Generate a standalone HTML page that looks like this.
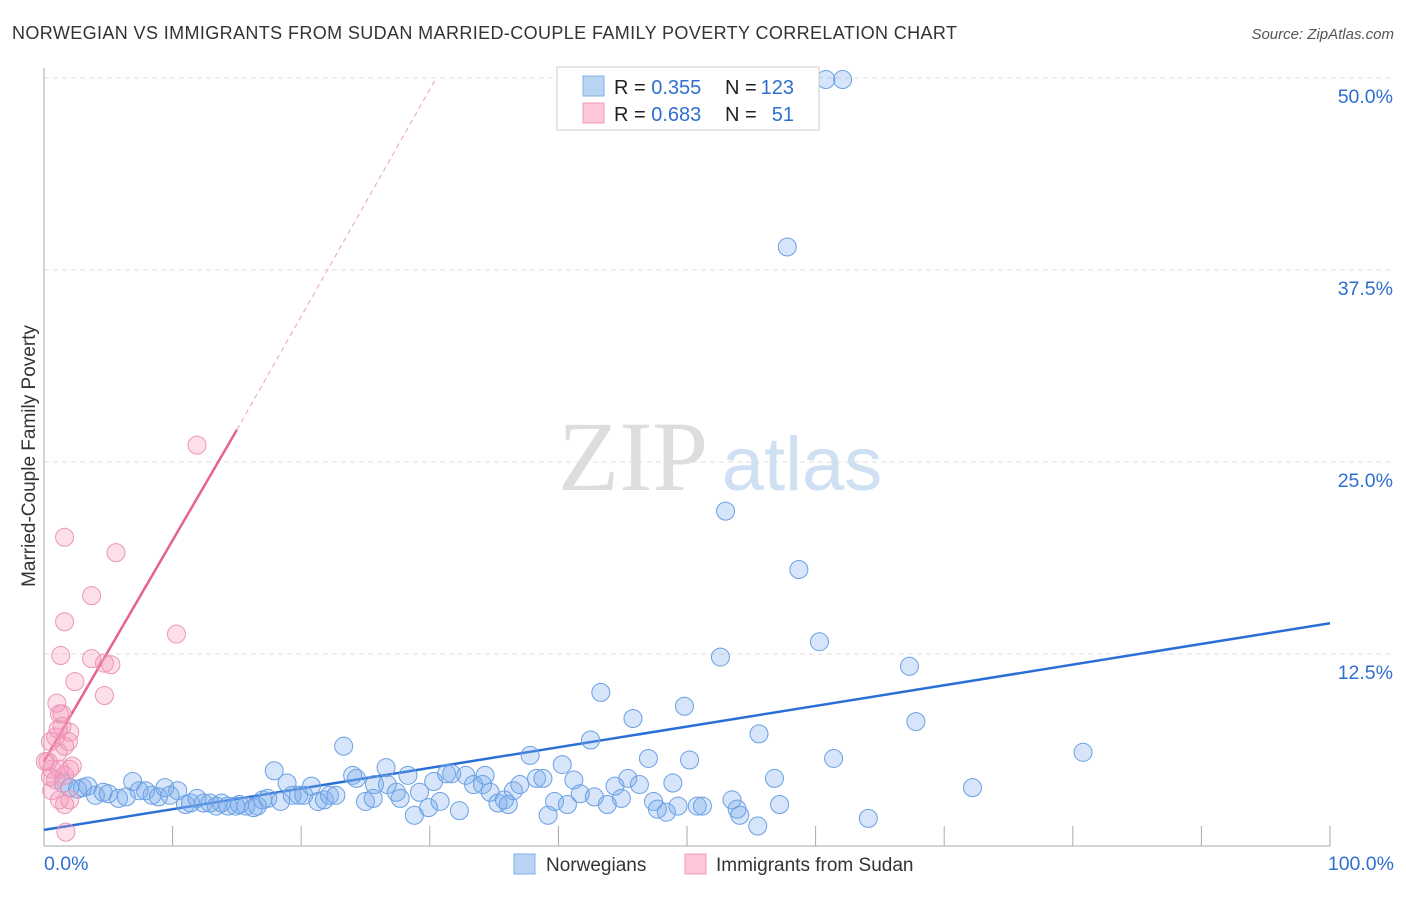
<!DOCTYPE html>
<html><head><meta charset="utf-8"><style>
body{margin:0;background:#fff;font-family:"Liberation Sans",sans-serif;}
svg text{font-family:"Liberation Sans",sans-serif;}
svg text.serif{font-family:"Liberation Serif",serif;}
</style></head><body>
<svg id="chart" width="1406" height="892">
<text x="12" y="39" font-size="18" fill="#333" textLength="945">NORWEGIAN VS IMMIGRANTS FROM SUDAN MARRIED-COUPLE FAMILY POVERTY CORRELATION CHART</text>
<text x="1394" y="39" font-size="15" fill="#555" font-style="italic" text-anchor="end">Source: ZipAtlas.com</text>
<text x="35" y="456" font-size="19" fill="#333" text-anchor="middle" transform="rotate(-90 35 456)">Married-Couple Family Poverty</text>
<g><text class="serif" x="633" y="490" font-size="100" fill="#ddd" text-anchor="middle">ZIP</text><text x="802" y="490" font-size="76" fill="#cfe0f3" text-anchor="middle">atlas</text></g>
<g id="grid"></g><g id="axes"></g><g id="lines"></g><g id="pts"></g>
<g>
<rect x="557" y="67" width="262" height="63" fill="#fff" stroke="#ccc"/>
<rect x="583" y="76" width="21" height="20" fill="#b9d3f3" stroke="#7fb0e8"/>
<rect x="583" y="103" width="21" height="20" fill="#fcc7d7" stroke="#f099b4"/>
<text x="614" y="94" font-size="20" fill="#222">R = <tspan fill="#2f6fd0">0.355</tspan></text>
<text x="725" y="94" font-size="20" fill="#222">N =</text>
<text x="794" y="94" font-size="20" fill="#2f6fd0" text-anchor="end">123</text>
<text x="614" y="121" font-size="20" fill="#222">R = <tspan fill="#2f6fd0">0.683</tspan></text>
<text x="725" y="121" font-size="20" fill="#222">N =</text>
<text x="794" y="121" font-size="20" fill="#2f6fd0" text-anchor="end">51</text>
</g>
<g>
<rect x="514" y="854" width="21" height="20" fill="#b9d3f3" stroke="#7fb0e8"/>
<text x="546" y="871" font-size="19" fill="#333">Norwegians</text>
<rect x="685" y="854" width="21" height="20" fill="#fcc7d7" stroke="#f099b4"/>
<text x="716" y="871" font-size="19" fill="#333">Immigrants from Sudan</text>
</g>
</svg>
<script>
const yTicks=[12.5,25.0,37.5,50.0];
const yTickLabels=["12.5%","25.0%","37.5%","50.0%"];
const xTickLabels=["0.0%","100.0%"];
const blueX=[1.5,2.0,2.6,3.0,3.4,4.0,4.6,5.0,5.8,6.4,6.9,7.4,7.9,8.4,8.9,9.4,9.8,10.4,11.0,11.4,11.9,12.4,12.9,13.4,13.8,14.3,14.9,15.2,15.7,16.3,16.6,17.0,17.4,17.9,18.4,18.9,19.3,19.8,20.2,20.8,21.3,21.8,22.2,22.7,23.3,24.0,24.3,25.0,25.6,25.7,26.6,26.7,27.4,27.7,28.3,28.8,29.2,29.9,30.3,30.8,31.3,31.7,32.3,32.8,33.4,34.1,34.3,34.7,35.3,35.8,36.1,36.5,37.0,37.8,38.3,38.8,39.2,39.7,40.3,40.7,41.2,41.7,42.5,42.8,43.3,43.8,44.4,44.9,45.4,45.8,46.3,47.0,47.4,47.7,48.4,48.9,49.3,49.8,50.2,50.8,51.2,52.6,53.0,53.5,53.9,54.1,55.6,55.5,56.8,57.2,57.8,58.7,60.3,60.8,61.4,62.1,64.1,67.3,67.8,72.2,80.8];
const blueY=[4.1,3.8,3.7,3.8,3.9,3.3,3.5,3.4,3.1,3.2,4.2,3.6,3.6,3.3,3.2,3.8,3.3,3.6,2.7,2.8,3.1,2.8,2.8,2.6,2.8,2.6,2.6,2.7,2.6,2.5,2.6,3.0,3.1,4.9,2.9,4.1,3.3,3.3,3.3,3.9,2.9,3.0,3.3,3.3,6.5,4.6,4.4,2.9,3.1,4.0,5.1,4.0,3.5,3.1,4.6,2.0,3.5,2.5,4.2,2.9,4.7,4.7,2.3,4.6,4.0,4.0,4.6,3.5,2.8,3.0,2.7,3.6,4.0,5.9,4.4,4.4,2.0,2.9,5.3,2.7,4.3,3.4,6.9,3.2,10.0,2.7,3.9,3.1,4.4,8.3,4.0,5.7,2.9,2.4,2.2,4.1,2.6,9.1,5.6,2.6,2.6,12.3,21.8,3.0,2.4,2.0,7.3,1.3,4.4,2.7,39.0,18.0,13.3,49.9,5.7,49.9,1.8,11.7,8.1,3.8,6.1];
const pinkX=[11.9,1.6,5.6,3.7,1.6,10.3,1.3,3.7,4.7,5.2,2.4,4.7,1,1.2,1.4,2,0.9,1.6,0.5,1.1,0.3,0.6,1.2,1.6,0.9,2,1.2,1.6,2,1.7,0.6,1.1,1.4,1.9,2.2,0.1,0.5];
const pinkY=[26.1,20.1,19.1,16.3,14.6,13.8,12.4,12.2,11.9,11.8,10.7,9.8,9.3,8.6,7.8,7.4,7.1,6.5,6.8,6.1,5.5,5,5,4.6,4.3,5,3,2.7,3,0.9,3.6,7.6,8.6,6.8,5.2,5.5,4.5];
const X=v=>44+v*12.86, Y=v=>846-v*15.36;
const NS="http://www.w3.org/2000/svg";
function mk(g,t,a){const e=document.createElementNS(NS,t);for(const k in a)e.setAttribute(k,a[k]);document.getElementById(g).appendChild(e);return e;}
yTicks.forEach((t,i)=>{
 const l=mk('grid','line',{x1:44,x2:1394,y1:Y(t),y2:Y(t),stroke:'#ddd','stroke-dasharray':'5,4'});
 
 
 const tx=mk('axes','text',{x:1393,y:Y(t)+25,'font-size':19.5,fill:'#2f6fd0','text-anchor':'end'});tx.textContent=yTickLabels[i];
 
 
});
mk('axes','line',{x1:44,x2:44,y1:68,y2:846,stroke:'#aaa'});
mk('axes','line',{x1:44,x2:1330,y1:846,y2:846,stroke:'#aaa'});
for(let i=1;i<=10;i++){mk('axes','line',{x1:X(i*10),x2:X(i*10),y1:826,y2:846,stroke:'#aaa'});}
[[0,'start',44],[1,'end',1394]].forEach(([i,a,x])=>{const t=mk('axes','text',{x:x,y:870,'font-size':19.5,fill:'#2f6fd0','text-anchor':a});t.textContent=xTickLabels[i];
 
 });
const bl=mk('lines','line',{x1:X(0),y1:Y(1.05),x2:X(100),y2:Y(14.5),stroke:'#2a6fd6','stroke-width':2.5});


const pl=mk('lines','line',{x1:X(0),y1:Y(5.5),x2:X(15),y2:Y(27.1),stroke:'#e8618f','stroke-width':2.5});


const pd=mk('lines','line',{x1:X(15),y1:Y(27.1),x2:X(30.5),y2:Y(50),stroke:'#e8a0b8','stroke-width':1,'stroke-dasharray':'5,4'});


blueX.forEach((v,i)=>{const c=mk('pts','circle',{cx:X(v),cy:Y(blueY[i]),r:9,fill:'rgba(120,170,235,0.3)',stroke:'#6aa0e4','stroke-width':1});
 
 });
pinkX.forEach((v,i)=>{const c=mk('pts','circle',{cx:X(v),cy:Y(pinkY[i]),r:9,fill:'rgba(245,150,185,0.3)',stroke:'#ec96b4','stroke-width':1});
 
 });
</script>
</body></html>
